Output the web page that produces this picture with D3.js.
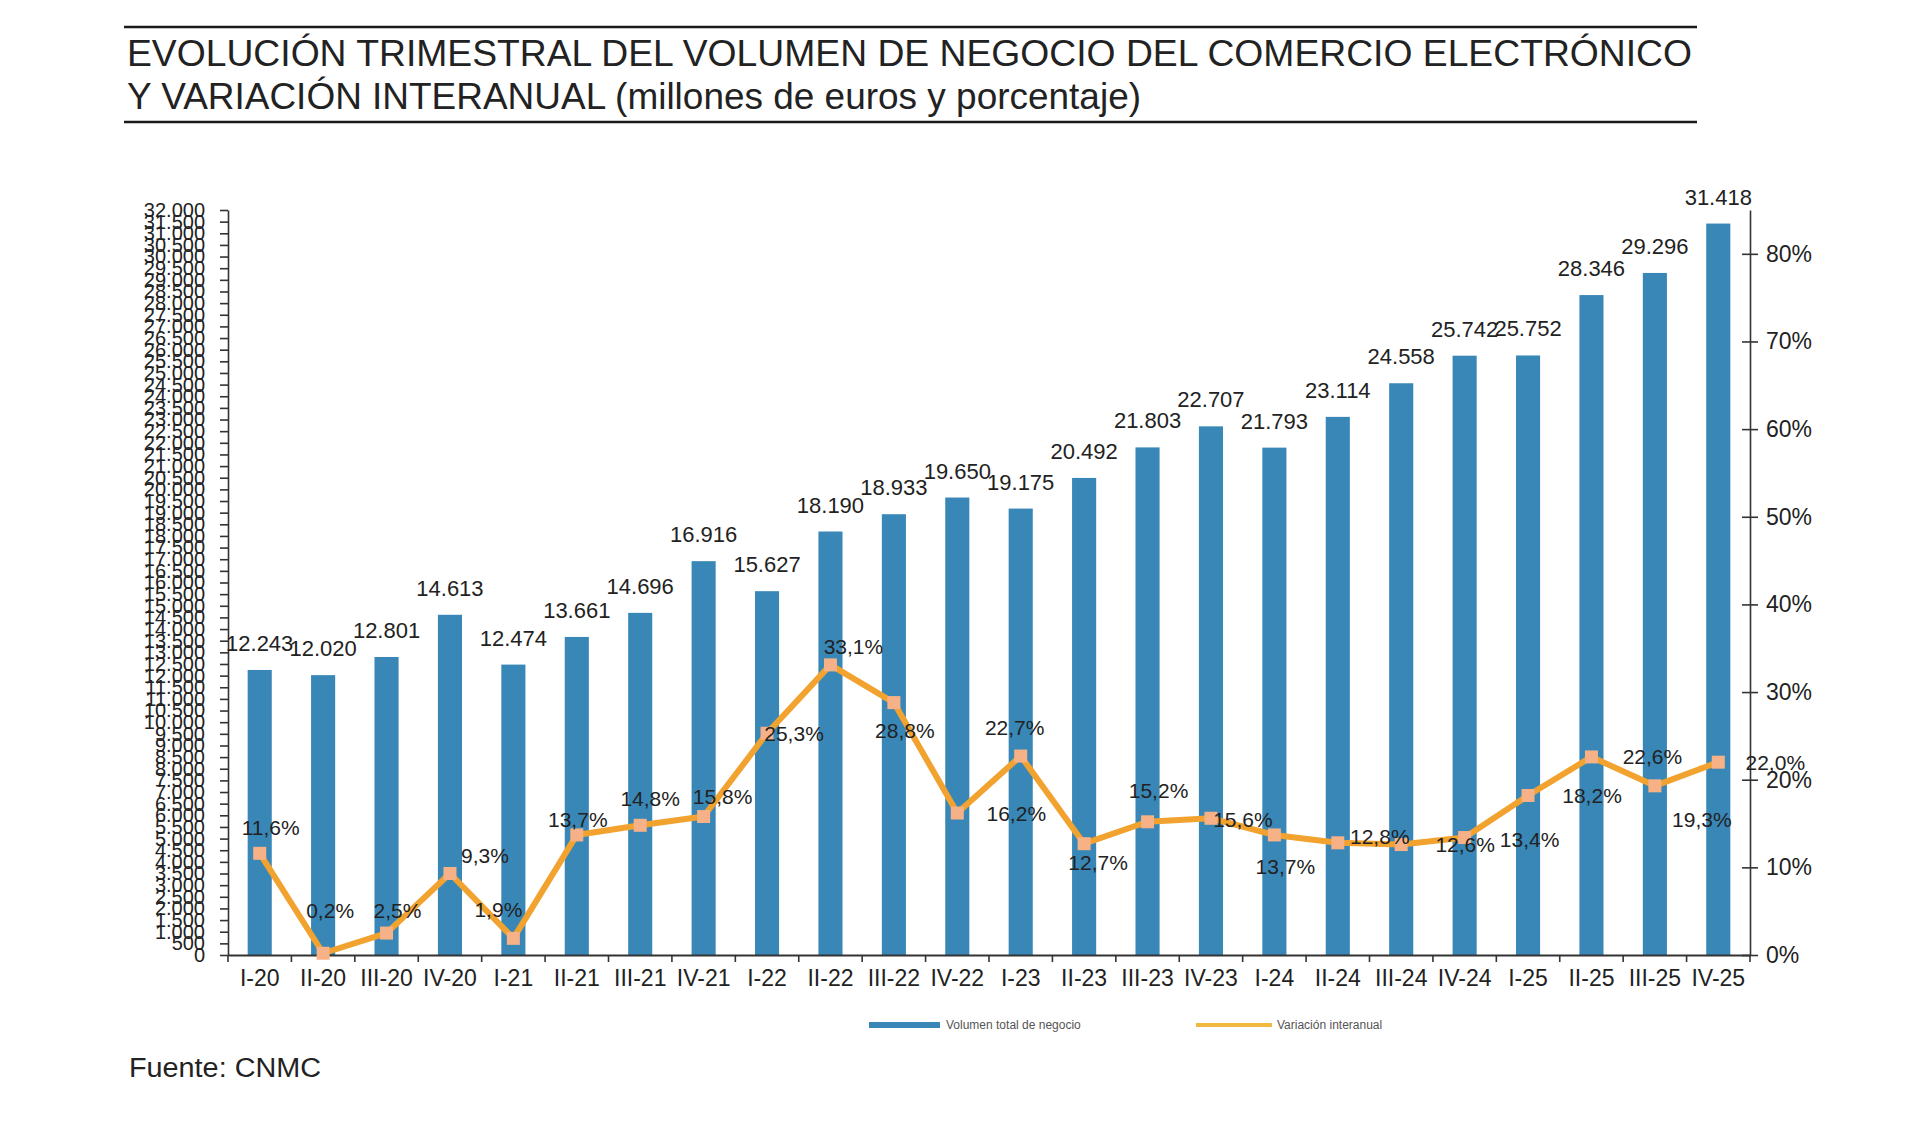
<!DOCTYPE html>
<html>
<head>
<meta charset="utf-8">
<script src="https://cdn.jsdelivr.net/npm/d3@7"></script>
<style>
  body { margin: 0; background: #fff; }
  svg { display: block; }
  text { font-family: Arial, "Liberation Sans", sans-serif; fill: #222; }
</style>
</head>
<body>
<svg id="chart" width="1920" height="1143"></svg>
<script>
// quarters shown on the x axis
const quarters = ["I-20", "II-20", "III-20", "IV-20", "I-21", "II-21", "III-21", "IV-21",
  "I-22", "II-22", "III-22", "IV-22", "I-23", "II-23", "III-23", "IV-23",
  "I-24", "II-24", "III-24", "IV-24", "I-25", "II-25", "III-25", "IV-25"];

// volumen total de negocio (millones de euros)
const volume = [12243, 12020, 12801, 14613, 12474, 13661, 14696, 16916,
  15627, 18190, 18933, 19650, 19175, 20492, 21803, 22707,
  21793, 23114, 24558, 25742, 25752, 28346, 29296, 31418];

// variación interanual (%)
const variation = [11.6, 0.2, 2.5, 9.3, 1.9, 13.7, 14.8, 15.8,
  25.3, 33.1, 28.8, 16.2, 22.7, 12.7, 15.2, 15.6,
  13.7, 12.8, 12.6, 13.4, 18.2, 22.6, 19.3, 22.0];

const leftTicks = d3.range(0, 32001, 500);
const rightTicks = [0, 10, 20, 30, 40, 50, 60, 70, 80];

// where each % label sits relative to its marker (as in the original layout)
const varLabelShift = [[11, -26], [7, -43], [11, -23], [35, -18], [-15, -29], [1, -15],
  [10, -27], [19, -20], [27, 0], [23, -18], [11, 28], [59, 0], [-6, -29], [14, 19],
  [11, -31], [32, 1], [11, 32], [42, -6], [64, 0], [65, 2], [64, 0], [61, 0], [47, 34], [57, 0]];

const es = d3.formatLocale({ decimal: ",", thousands: ".", grouping: [3], currency: ["", " €"] });
const fmtInt = es.format(",d");
const fmtPct = es.format(".1f");

const svg = d3.select("#chart");

const plotLeft = 228, plotRight = 1750, plotTop = 210, plotBase = 955;

const x = d3.scaleBand().domain(quarters).range([plotLeft, plotRight])
  .paddingInner(0.62).paddingOuter(0.31);
const yL = d3.scaleLinear().domain([0, 32000]).range([plotBase, plotTop]);
const yR = d3.scaleLinear().domain([0, 85]).range([plotBase, plotTop]);
const cx = q => x(q) + x.bandwidth() / 2;

// title block
svg.append("line").attr("x1", 124).attr("x2", 1697).attr("y1", 27).attr("y2", 27)
  .attr("stroke", "#1a1a1a").attr("stroke-width", 2.5);
svg.append("line").attr("x1", 124).attr("x2", 1697).attr("y1", 122).attr("y2", 122)
  .attr("stroke", "#1a1a1a").attr("stroke-width", 2.5);
svg.append("text").attr("x", 127).attr("y", 66).attr("font-size", 36)
  .attr("textLength", 1565).attr("lengthAdjust", "spacingAndGlyphs")
  .text("EVOLUCIÓN TRIMESTRAL DEL VOLUMEN DE NEGOCIO DEL COMERCIO ELECTRÓNICO");
svg.append("text").attr("x", 127).attr("y", 109).attr("font-size", 36)
  .attr("textLength", 1014).attr("lengthAdjust", "spacingAndGlyphs")
  .text("Y VARIACIÓN INTERANUAL (millones de euros y porcentaje)");

// bars
svg.append("g").selectAll("rect").data(volume).join("rect")
  .attr("x", (d, i) => x(quarters[i]))
  .attr("y", d => yL(d))
  .attr("width", x.bandwidth())
  .attr("height", d => plotBase - yL(d))
  .attr("fill", "#3887b7");

// left axis
const gL = svg.append("g").attr("transform", `translate(${plotLeft},0)`)
  .call(d3.axisLeft(yL).tickValues(leftTicks).tickFormat(fmtInt)
    .tickSize(8).tickSizeOuter(0).tickPadding(15));
gL.selectAll("text").attr("font-size", 20).attr("font-family", "Arial, 'Liberation Sans', sans-serif");
gL.selectAll("line, path").attr("stroke", "#333").attr("stroke-width", 1.6);

// right axis
const gR = svg.append("g").attr("transform", `translate(${plotRight},0)`)
  .call(d3.axisRight(yR).tickValues(rightTicks).tickFormat(d => d + "%")
    .tickSize(8).tickSizeOuter(0).tickPadding(8));
gR.selectAll(".tick line").attr("x1", -8);
gR.selectAll("text").attr("font-size", 23).attr("font-family", "Arial, 'Liberation Sans', sans-serif");
gR.selectAll("line, path").attr("stroke", "#333").attr("stroke-width", 1.6);

// x axis with ticks between categories
const gX = svg.append("g").attr("transform", `translate(0,${plotBase})`)
  .call(d3.axisBottom(x).tickSize(0).tickPadding(15).tickSizeOuter(0));
gX.selectAll("text").attr("font-size", 23).attr("font-family", "Arial, 'Liberation Sans', sans-serif");
gX.select(".domain").attr("stroke", "#333").attr("stroke-width", 1.8);
const bounds = quarters.map(q => x(q) - (x.step() - x.bandwidth()) / 2);
bounds.push(plotRight);
gX.selectAll(".sep").data(bounds).join("line").attr("class", "sep")
  .attr("x1", d => d).attr("x2", d => d).attr("y1", 0).attr("y2", 7)
  .attr("stroke", "#333").attr("stroke-width", 1.6);

// bar value labels
svg.append("g").selectAll("text").data(volume).join("text")
  .attr("x", (d, i) => cx(quarters[i]))
  .attr("y", d => yL(d) - 19)
  .attr("text-anchor", "middle")
  .attr("font-size", 22)
  .text(d => fmtInt(d));

// variation line
const line = d3.line().x((d, i) => cx(quarters[i])).y(d => yR(d));
svg.append("path").datum(variation).attr("d", line)
  .attr("fill", "none").attr("stroke", "#f1a22f").attr("stroke-width", 6)
  .attr("stroke-linejoin", "round");

svg.append("g").selectAll("rect").data(variation).join("rect")
  .attr("x", (d, i) => cx(quarters[i]) - 6.5)
  .attr("y", d => yR(d) - 6.5)
  .attr("width", 13).attr("height", 13)
  .attr("fill", "#f6b187");

svg.append("g").selectAll("text").data(variation).join("text")
  .attr("x", (d, i) => cx(quarters[i]) + varLabelShift[i][0])
  .attr("y", (d, i) => yR(d) + varLabelShift[i][1])
  .attr("dy", "0.36em")
  .attr("text-anchor", "middle")
  .attr("font-size", 21)
  .text(d => fmtPct(d) + "%");

// legend
const legend = svg.append("g").attr("font-size", 12);
legend.append("line").attr("x1", 869).attr("x2", 940).attr("y1", 1025).attr("y2", 1025)
  .attr("stroke", "#3887b7").attr("stroke-width", 6);
legend.append("text").attr("x", 946).attr("y", 1029)
  .style("fill", "#555").text("Volumen total de negocio");
legend.append("line").attr("x1", 1196).attr("x2", 1272).attr("y1", 1025).attr("y2", 1025)
  .attr("stroke", "#f1b940").attr("stroke-width", 4);
legend.append("text").attr("x", 1277).attr("y", 1029)
  .style("fill", "#555").text("Variación interanual");

// source
svg.append("text").attr("x", 129).attr("y", 1077).attr("font-size", 27)
  .attr("textLength", 192).attr("lengthAdjust", "spacingAndGlyphs")
  .text("Fuente: CNMC");
</script>
</body>
</html>
